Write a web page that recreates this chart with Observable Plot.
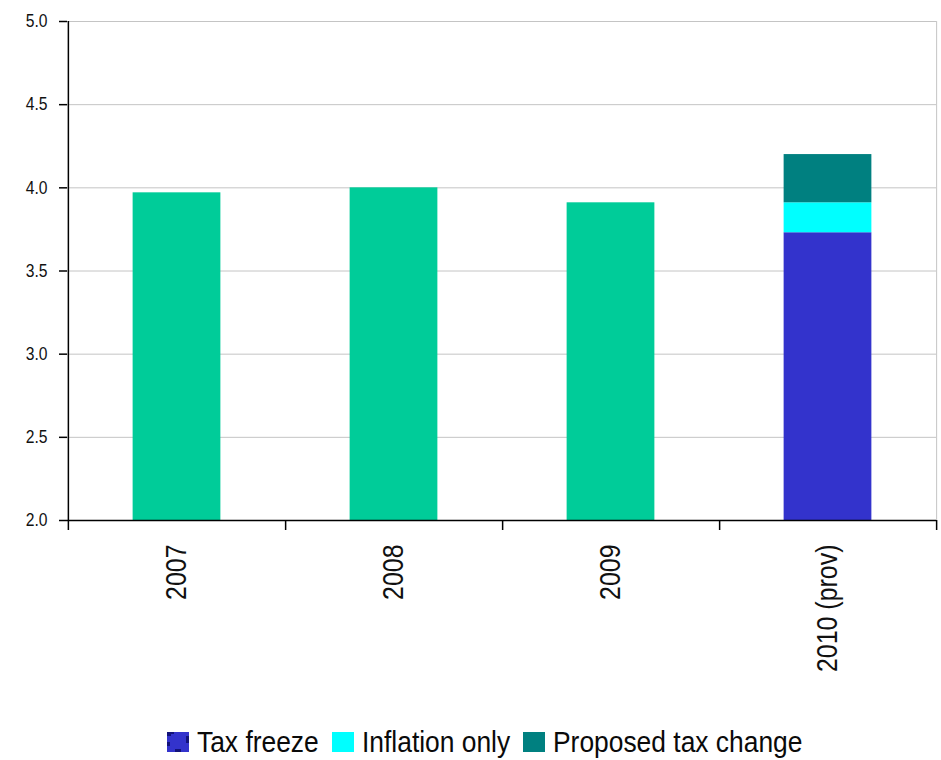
<!DOCTYPE html>
<html><head><meta charset="utf-8">
<script src="https://cdn.jsdelivr.net/npm/d3@7"></script>
<script src="https://cdn.jsdelivr.net/npm/@observablehq/plot@0.6"></script>
<style>
body{margin:0;background:#fff;font-family:"Liberation Sans",Arial,sans-serif;}
#chart svg{display:block;}
#legend{position:relative;display:flex;align-items:center;padding-left:167px;height:64px;font-size:29px;color:#0a0a0a;}
#legend .item{display:flex;align-items:center;margin-right:13px;}
#legend .sw{width:22px;height:20px;margin-right:8px;flex:none;}
#legend .sw.pat{background:
  linear-gradient(#12127a,#12127a) 0 0/4px 4px no-repeat,
  linear-gradient(#12127a,#12127a) 19px 4px/3px 7px no-repeat,
  linear-gradient(#12127a,#12127a) 0 10px/3px 4px no-repeat,
  linear-gradient(#12127a,#12127a) 8px 17px/6px 3px no-repeat,
  linear-gradient(#12127a,#12127a) 4px 0/3px 2px no-repeat,
  #3333CC !important;}
#legend .tx{display:inline-block;transform:scaleX(0.91);transform-origin:left center;white-space:nowrap;}
</style></head><body><div id="chart"></div><div id="legend"></div>
<script>
const years = ["2007", "2008", "2009", "2010 (prov)"];
const outturn = [3.97, 4.00, 3.91, 0];
const taxFreeze = [0, 0, 0, 3.73];
const inflationOnly = [0, 0, 0, 0.18];
const proposedTaxChange = [0, 0, 0, 0.29];
const seriesNames = ["Outturn", "Tax freeze", "Inflation only", "Proposed tax change"];
const seriesValues = [outturn, taxFreeze, inflationOnly, proposedTaxChange];
const seriesColors = ["#00CC99", "#3333CC", "#00FFFF", "#008080"];
const legendSeries = ["Tax freeze", "Inflation only", "Proposed tax change"];
const yTicks = [2.0, 2.5, 3.0, 3.5, 4.0, 4.5, 5.0];

const data = [];
years.forEach((yr, i) => seriesNames.forEach((s, j) => {
  if (seriesValues[j][i] > 0) data.push({year: yr, series: s, value: seriesValues[j][i]});
}));
const colorOf = Object.fromEntries(seriesNames.map((s, j) => [s, seriesColors[j]]));

const W = 941, H = 710, mL = 67, mR = 5, mT = 21, mB = 190;
const bw = (W - mL - mR) / years.length;
const barW = 88;

const chart = Plot.plot({
  width: W, height: H,
  marginLeft: mL, marginRight: mR, marginTop: mT, marginBottom: mB,
  style: {fontFamily: '"Liberation Sans",Arial,sans-serif', color: "#111", background: "#fff"},
  x: {domain: years, padding: 0, label: null},
  y: {domain: [2, 5], label: null},
  marks: [
    Plot.gridY(yTicks, {stroke: "#c4c4c4", strokeOpacity: 1}),
    Plot.ruleX([years[years.length - 1]], {dx: bw / 2, y1: 5, y2: 2, stroke: "#c4c4c4"}),
    Plot.barY(data, Plot.stackY({x: "year", y: "value", fill: d => colorOf[d.series], order: seriesNames, insetLeft: (bw - barW) / 2, insetRight: (bw - barW) / 2, clip: true})),
    Plot.ruleY([2], {stroke: "#000", strokeWidth: 1.5}),
    Plot.ruleX([years[0]], {dx: -bw / 2, y1: 5, y2: 2, insetBottom: -10, stroke: "#000", strokeWidth: 1.5}),
    Plot.ruleX(years, {dx: bw / 2, y1: 2, y2: 2, insetBottom: -10, stroke: "#000", strokeWidth: 1.5}),
    Plot.axisY({ticks: yTicks, tickFormat: d3.format(".1f"), tickSize: 8, tickPadding: 12, fontSize: 18, stroke: "#000", strokeWidth: 1.5}),
    Plot.axisX({tickSize: 0, tickRotate: -90, tickPadding: 24, fontSize: 29})
  ]
});
document.getElementById("chart").appendChild(chart);

// condense glyphs to mimic a narrow face
function condense(sel, size, s) {
  chart.querySelectorAll(sel).forEach(g => {
    g.setAttribute("font-size", size);
    g.querySelectorAll("text").forEach(t => {
      const w = t.getComputedTextLength();
      if (w > 0) {
        t.setAttribute("textLength", w * s);
        t.setAttribute("lengthAdjust", "spacingAndGlyphs");
      }
    });
  });
}
condense('g[aria-label="y-axis tick label"]', 18, 0.87);
condense('g[aria-label="x-axis tick label"]', 29, 0.86);

const legend = document.getElementById("legend");
legendSeries.forEach((s, k) => {
  const it = document.createElement("div"); it.className = "item";
  const sw = document.createElement("span"); sw.className = "sw" + (k === 0 ? " pat" : ""); sw.style.background = colorOf[s];
  const tx = document.createElement("span"); tx.className = "tx"; tx.textContent = s;
  it.appendChild(sw); it.appendChild(tx); legend.appendChild(it);
  tx.style.marginRight = (-tx.getBoundingClientRect().width / 0.91 * 0.09) + "px";
});
</script></body></html>
